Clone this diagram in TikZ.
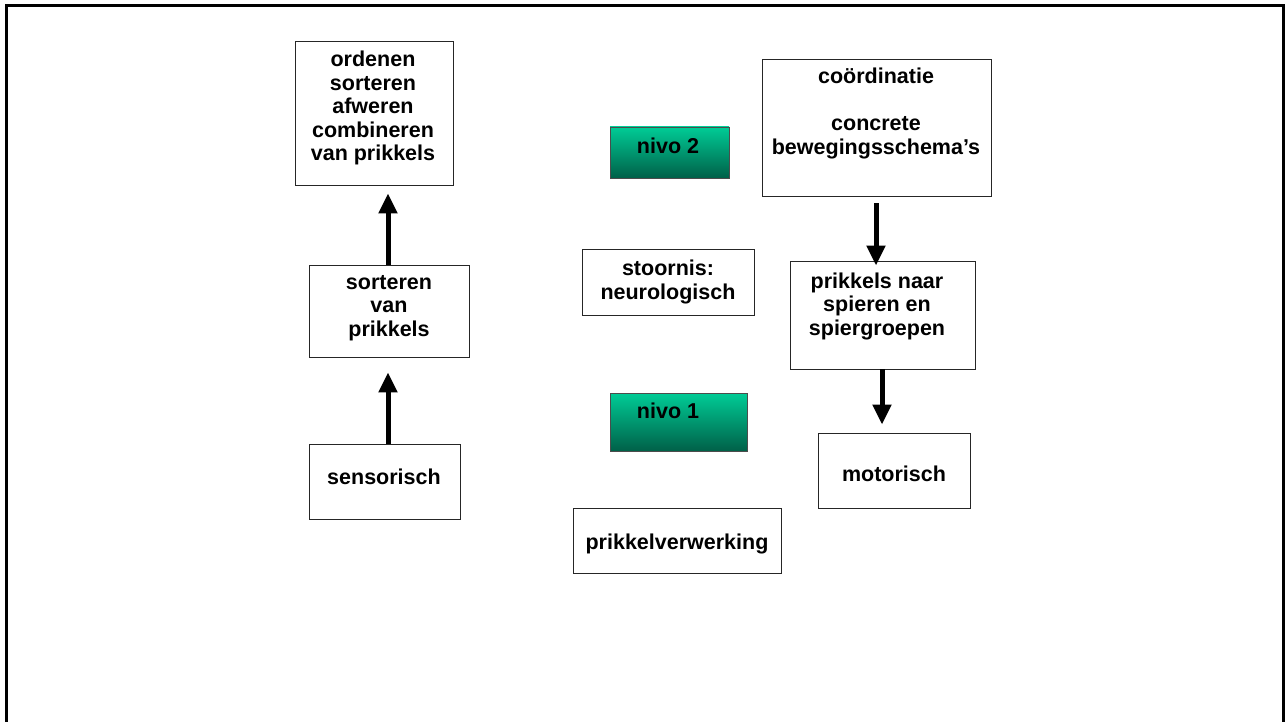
\documentclass[tikz,border=0pt]{standalone}
\usepackage{fontspec}
\setmainfont{Liberation Sans}
\usetikzlibrary{arrows.meta}
\begin{document}
\begin{tikzpicture}[x=1pt,y=-1pt,
  box/.style={draw=black!85, line width=0.9pt, fill=white, inner sep=0pt},
  txt/.style={font=\bfseries\fontsize{21.5}{23.5}\selectfont, align=center, inner sep=0pt},
  arr/.style={line width=5pt, -{Triangle[length=20pt,width=18pt]}}
]
\definecolor{nivotop}{RGB}{0,204,150}
\definecolor{nivobot}{RGB}{0,96,72}
\tikzset{nivo/.style={draw=black!70, line width=0.9pt, inner sep=0pt, top color=nivotop, bottom color=nivobot}}
\useasboundingbox (0,0) rectangle (1287,722);
\draw[line width=3pt] (6,760) -- (6,6) -- (1283,6) -- (1283,760);

% boxes
\node[box, minimum width=158pt, minimum height=144pt] (ord) at (374,113) {};
\node[box, minimum width=160pt, minimum height=92pt] (sort) at (389,311) {};
\node[box, minimum width=151pt, minimum height=75pt] (sens) at (384.5,481.5) {};
\node[nivo, minimum width=119pt, minimum height=51pt] (n2) at (669.5,152.5) {};
\node[box, minimum width=172pt, minimum height=66pt] (stoor) at (668,282) {};
\node[nivo, minimum width=137pt, minimum height=58pt] (n1) at (678.5,422) {};
\node[box, minimum width=208pt, minimum height=65pt] (prv) at (677,540.5) {};
\node[box, minimum width=229pt, minimum height=137pt] (coor) at (876.5,127.5) {};
\node[box, minimum width=185pt, minimum height=108pt] (prik) at (882.5,315) {};
\node[box, minimum width=152pt, minimum height=75pt] (mot) at (894,470.5) {};

% texts
\node[txt] at (373,108) {ordenen\\sorteren\\afweren\\combineren\\van prikkels};
\node[txt] at (389,308) {sorteren\\van\\prikkels};
\node[txt] at (384,477) {sensorisch};
\node[txt] at (668,146) {nivo 2};
\node[txt] at (668,282) {stoornis:\\neurologisch};
\node[txt] at (668,411) {nivo 1};
\node[txt] at (677,544) {prikkelverwerking};
\node[txt] at (876,113.5) {coördinatie\\[23.5pt]concrete\\bewegingsschema’s};
\node[txt] at (877,306) {prikkels naar\\spieren en\\spiergroepen};
\node[txt] at (894,474) {motorisch};

% arrows
\draw[arr] (sens.north -| 388,0) -- ([yshift=-15pt]sort.south -| 388,0);
\draw[arr] (sort.north -| 388,0) -- ([yshift=-8pt]ord.south -| 388,0);
\draw[arr] ([yshift=-7pt]coor.south -| 876,0) -- ([yshift=-5pt]prik.north -| 876,0);
\draw[arr] (prik.south -| 882,0) -- ([yshift=8pt]mot.north -| 882,0);
\end{tikzpicture}
\end{document}
